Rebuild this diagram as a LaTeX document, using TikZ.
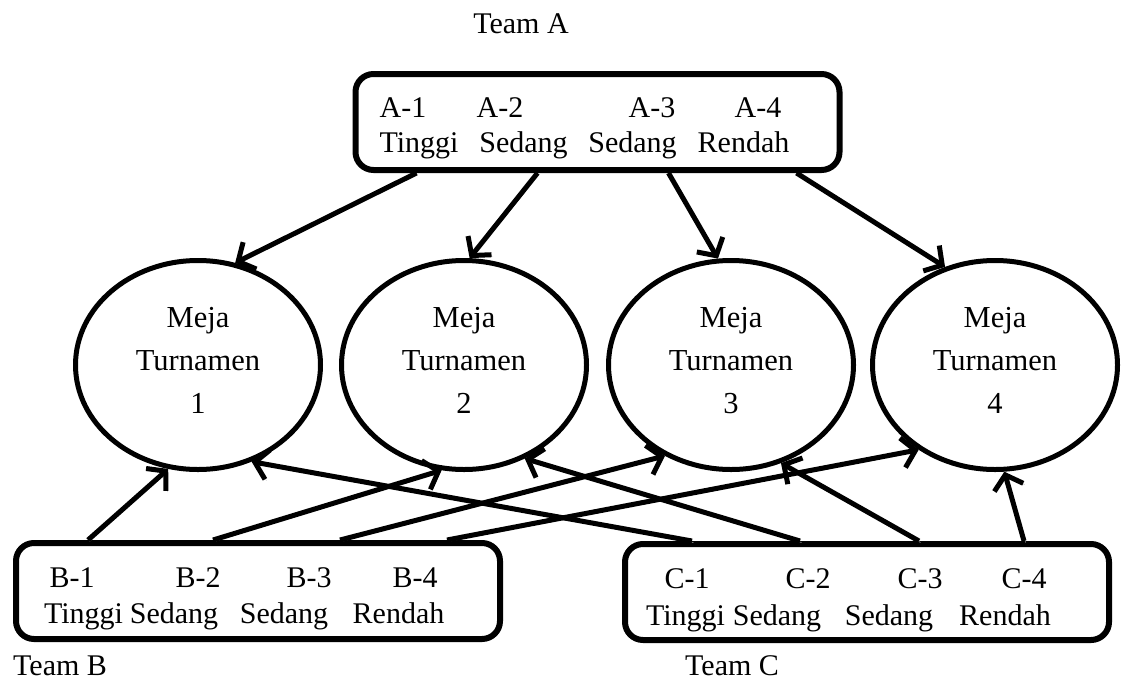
\documentclass[tikz,border=0pt]{standalone}
\usepackage{fontspec}
\setmainfont{Liberation Serif}
\usetikzlibrary{shapes.geometric,arrows.meta}

\tikzset{
	teambox/.style={draw, line width=6pt, rounded corners=18pt, fill=white,
		minimum width=484pt, minimum height=96pt},
	meja/.style={draw, ellipse, line width=5pt, minimum width=245pt, minimum height=209pt,
		align=center, inner sep=0pt, text depth=10pt, font=\fontsize{30.5}{43}\selectfont},
	lbl/.style={anchor=base, inner sep=0pt, font=\fontsize{30}{36}\selectfont},
	link/.style={line width=5pt, -{Straight Barb[length=13pt,width=30pt]},
		preaction={draw=black!20, transform canvas={shift={(1.5pt,-1.5pt)}}}}
}

\begin{document}
\begin{tikzpicture}[x=1pt, y=-1pt]
	\useasboundingbox (0,0) rectangle (1131,680);
	% team boxes
	\node[teambox] (boxA) at (597.5,122) {};
	\node[teambox] (boxB) at (258,591) {};
	\node[teambox] (boxC) at (867,592) {};
	% team names
	\node[lbl] (teamA) at (521,33) {Team A};
	\node[lbl, anchor=base west] (teamB) at (13,675) {Team B};
	\node[lbl, anchor=base west] (teamC) at (685,675) {Team C};
	% members of team A
	\node[lbl] (a1) at (403,117) {A-1};
	\node[lbl] (a2) at (500,117) {A-2};
	\node[lbl] (a3) at (652,117) {A-3};
	\node[lbl] (a4) at (758,117) {A-4};
	\node[lbl] (a1lv) at (419,152) {Tinggi};
	\node[lbl] (a2lv) at (523.5,152) {Sedang};
	\node[lbl] (a3lv) at (632.5,152) {Sedang};
	\node[lbl] (a4lv) at (743.5,152) {Rendah};
	% members of team B
	\node[lbl] (b1) at (72,587) {B-1};
	\node[lbl] (b2) at (198,587) {B-2};
	\node[lbl] (b3) at (309,587) {B-3};
	\node[lbl] (b4) at (415,587) {B-4};
	\node[lbl] (b1lv) at (83.5,623) {Tinggi};
	\node[lbl] (b2lv) at (174,623) {Sedang};
	\node[lbl] (b3lv) at (284,623) {Sedang};
	\node[lbl] (b4lv) at (398.5,623) {Rendah};
	% members of team C
	\node[lbl] (c1) at (687,588) {C-1};
	\node[lbl] (c2) at (808,588) {C-2};
	\node[lbl] (c3) at (920,588) {C-3};
	\node[lbl] (c4) at (1024,588) {C-4};
	\node[lbl] (c1lv) at (685.5,625) {Tinggi};
	\node[lbl] (c2lv) at (777,625) {Sedang};
	\node[lbl] (c3lv) at (889,625) {Sedang};
	\node[lbl] (c4lv) at (1005,625) {Rendah};
	% tournament tables
	\node[meja] (e1) at (198,365) {Meja\\Turnamen\\1};
	\node[meja] (e2) at (464,365) {Meja\\Turnamen\\2};
	\node[meja] (e3) at (731,365) {Meja\\Turnamen\\3};
	\node[meja] (e4) at (995,365) {Meja\\Turnamen\\4};
	% team A to the tables
	\draw[link] ([xshift=64pt]boxA.south west) -- (e1.70);
	\draw[link] ([xshift=185pt]boxA.south west) -- (e2.87);
	\draw[link] ([xshift=316pt]boxA.south west) -- (e3.97);
	\draw[link] ([xshift=444pt]boxA.south west) -- (e4.117);
	% team B to the tables
	\draw[link] ([xshift=75pt]boxB.north west) -- (e1.-106);
	\draw[link] ([xshift=200pt]boxB.north west) -- (e2.-102);
	\draw[link] ([xshift=327pt]boxB.north west) -- (e3.-126);
	\draw[link] ([xshift=434pt]boxB.north west) -- (e4.-132);
	% team C to the tables
	\draw[link] ([xshift=70pt]boxC.north west) -- (e1.-61);
	\draw[link] ([xshift=178pt]boxC.north west) -- (e2.-57);
	\draw[link] ([xshift=297pt]boxC.north west) -- (e3.-63);
	\draw[link] ([xshift=402pt]boxC.north west) -- (e4.-85);
\end{tikzpicture}
\end{document}
